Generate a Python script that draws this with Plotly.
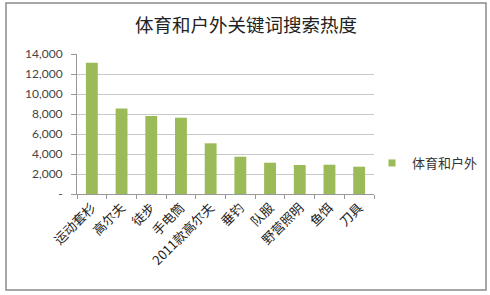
import plotly.graph_objects as go

categories = ["运动套杉", "高尔夫", "徒步", "手电筒", "2011款高尔夫", "垂钓", "队服", "野营照明", "鱼饵", "刀具"]
values = [13130, 8550, 7800, 7630, 5070, 3730, 3130, 2900, 2930, 2730]
series_name = "体育和户外"
title_text = "体育和户外关键词搜索热度"
y_tickvals = [0, 2000, 4000, 6000, 8000, 10000, 12000, 14000]
y_ticktext = ["-", "2,000", "4,000", "6,000", "8,000", "10,000", "12,000", "14,000"]

W, H = 490, 295
L, R, T, B = 77, 374, 54, 194
pw, ph = R - L, B - T
bar_color = "#9bbb59"

def px(x):
    return (x - L) / pw

def py(y):
    return (B - y) / ph

fig = go.Figure()
fig.add_trace(go.Bar(x=categories, y=values, name=series_name,
                     marker=dict(color=bar_color, line=dict(width=0)),
                     showlegend=False))
# legend entry with a small square swatch
fig.add_trace(go.Scatter(x=[None], y=[None], mode="markers", name=series_name,
                         marker=dict(symbol="square", size=7, color=bar_color),
                         showlegend=True))

fig.update_layout(
    width=W, height=H,
    margin=dict(l=L, r=W - R, t=T, b=H - B, pad=0, autoexpand=False),
    paper_bgcolor="white", plot_bgcolor="white",
    bargap=0.6,
    title=dict(text=title_text, x=246 / W, xref="container", xanchor="center",
               y=1 - 26 / H, yanchor="middle",
               font=dict(family="Noto Sans CJK SC", size=18.5, color="#222")),
    font=dict(family="Noto Sans CJK SC", color="#333"),
    showlegend=True,
    legend=dict(xref="container", yref="container",
                x=372 / W, y=1 - 163 / H, xanchor="left", yanchor="middle",
                font=dict(family="Noto Sans CJK SC", size=13, color="#333"),
                bgcolor="rgba(0,0,0,0)"),
    xaxis=dict(type="category", tickangle=-45, ticks="outside", ticklen=4,
               tickson="boundaries", tickcolor="#999", showline=True,
               linecolor="#999", showgrid=False, range=[-0.5, 9.5],
               tickfont=dict(family="Noto Sans CJK SC", size=13, color="#222")),
    yaxis=dict(range=[0, 14000], tickvals=y_tickvals, ticktext=y_ticktext,
               ticks="outside", ticklen=5, tickcolor="#999", showline=True,
               linecolor="#999", showgrid=True, gridcolor="#c8c8c8",
               zeroline=False, ticklabelstandoff=6,
               tickfont=dict(family="Lato", size=12, color="#444")),
    shapes=[dict(type="rect", xref="paper", yref="paper",
                 x0=px(6), x1=px(486), y0=py(290), y1=py(3),
                 line=dict(color="#8a8a8a", width=1.5), layer="below")],
)

fig.write_html("out.html")
